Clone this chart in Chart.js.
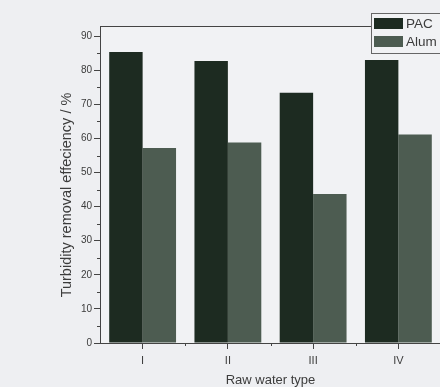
<!DOCTYPE html>
<html>
<head>
<meta charset="utf-8">
<script src="https://cdn.jsdelivr.net/npm/chart.js@4/dist/chart.umd.min.js"></script>
<style>
  html, body { margin: 0; padding: 0; background: #eeeff2; overflow: hidden; }
  #wrap { width: 442px; height: 387px; position: relative; }
</style>
</head>
<body>
<div id="wrap"><canvas id="chart"></canvas></div>
<script>
// values
const categories = ['I', 'II', 'III', 'IV'];
const pacValues  = [85.4, 82.7, 73.4, 83.0];
const alumValues = [57.2, 58.8, 43.7, 61.2];
const seriesNames = ['PAC', 'Alum'];
const yTicks = [0, 10, 20, 30, 40, 50, 60, 70, 80, 90];
const yMinor = [5, 15, 25, 35, 45, 55, 65, 75, 85];
const yTitle = 'Turbidity removal effeciency / %';

const INK = '#3c3c3c';
const FONT = '"Liberation Sans", Arial, sans-serif';
const COLORS = ['#1d2b21', '#4d5c51'];

// frame, minor ticks, y title and boxed legend, Origin style
const framePlugin = {
  id: 'frame',
  beforeDraw(chart) {
    const { ctx, chartArea: a } = chart;
    ctx.save();
    ctx.fillStyle = '#f1f2f4';
    ctx.fillRect(a.left, a.top, a.right - a.left, a.bottom - a.top);
    ctx.restore();
  },
  afterDraw(chart) {
    const { ctx, chartArea: a, scales } = chart;
    ctx.save();
    ctx.strokeStyle = '#444';
    ctx.lineWidth = 1;
    ctx.beginPath();
    ctx.moveTo(a.left, a.top + 0.5);
    ctx.lineTo(a.right, a.top + 0.5);
    ctx.moveTo(a.right - 0.5, a.top);
    ctx.lineTo(a.right - 0.5, a.bottom);
    yMinor.forEach(v => {
      const y = Math.round(scales.y.getPixelForValue(v)) + 0.5;
      ctx.moveTo(a.left - 3, y);
      ctx.lineTo(a.left, y);
    });
    for (let i = 0; i < categories.length - 1; i++) {
      const x = Math.round((scales.x.getPixelForValue(i) + scales.x.getPixelForValue(i + 1)) / 2) + 0.5;
      ctx.moveTo(x, a.bottom);
      ctx.lineTo(x, a.bottom + 3);
    }
    ctx.stroke();

    // y axis title, sits a little below the middle of the axis
    ctx.save();
    ctx.translate(67, 195);
    ctx.rotate(-Math.PI / 2);
    ctx.font = '14.5px ' + FONT;
    ctx.fillStyle = INK;
    ctx.textAlign = 'center';
    ctx.textBaseline = 'middle';
    ctx.fillText(yTitle, 0, 0);
    ctx.restore();

    // legend box
    const lx = 371, ly = 13, lw = 70, lh = 40;
    ctx.fillStyle = '#f1f2f4';
    ctx.fillRect(lx, ly, lw, lh);
    ctx.strokeStyle = '#666';
    ctx.strokeRect(lx + 0.5, ly + 0.5, lw, lh);
    ctx.font = '13.5px ' + FONT;
    ctx.textBaseline = 'middle';
    chart.data.datasets.forEach((ds, i) => {
      const y = ly + 5 + i * 18;
      ctx.fillStyle = ds.backgroundColor;
      ctx.fillRect(lx + 3, y, 29, 11);
      ctx.fillStyle = INK;
      ctx.fillText(ds.label, lx + 35, y + 6);
    });
    ctx.restore();
  }
};

new Chart(document.getElementById('chart'), {
  type: 'bar',
  data: {
    labels: categories,
    datasets: [
      { label: seriesNames[0], data: pacValues, backgroundColor: COLORS[0] },
      { label: seriesNames[1], data: alumValues, backgroundColor: COLORS[1] }
    ]
  },
  options: {
    responsive: true,
    maintainAspectRatio: false,
    animation: false,
    layout: { padding: { top: 26, right: 1, left: 0, bottom: 0 } },
    plugins: { legend: { display: false }, tooltip: { enabled: false } },
    datasets: { bar: { categoryPercentage: 0.784, barPercentage: 1.0 } },
    scales: {
      x: {
        offset: true,
        afterFit(s) { s.height = 44; },
        grid: { offset: false, drawOnChartArea: false, drawTicks: true, tickLength: 6, color: '#444' },
        border: { color: '#444', width: 1 },
        ticks: { color: INK, font: { size: 11, family: FONT }, padding: 5, maxRotation: 0 },
        title: {
          display: true, text: 'Raw water type', color: INK,
          font: { size: 13, family: FONT, lineHeight: 1 },
          padding: { top: 0, bottom: 0 }
        }
      },
      y: {
        min: 0,
        max: 93,
        afterFit(s) { s.width = 100; },
        afterBuildTicks(s) { s.ticks = yTicks.map(v => ({ value: v })); },
        grid: { drawOnChartArea: false, drawTicks: true, tickLength: 6, color: '#444' },
        border: { color: '#444', width: 1 },
        ticks: { color: INK, font: { size: 10, family: FONT }, padding: 2 },
        title: { display: false }
      }
    }
  },
  plugins: [framePlugin]
});
</script>
</body>
</html>
